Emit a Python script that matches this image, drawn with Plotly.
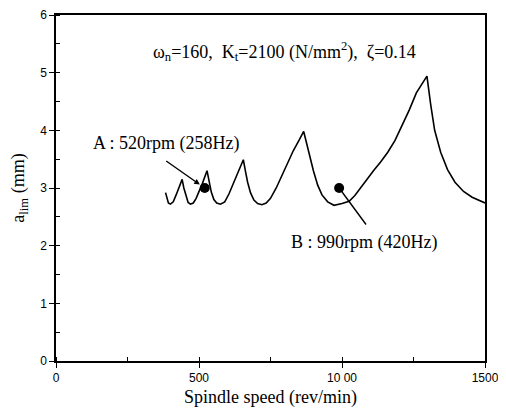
import plotly.graph_objects as go

# Stability lobe curve (spindle speed rpm, a_lim mm)
speed = [383, 393, 400, 410, 420, 432, 441, 447, 455, 462, 470, 480, 490, 500, 512, 528,
         535, 543, 552, 562, 575, 590, 605, 620, 638, 655, 662, 670, 680, 692, 705, 720,
         735, 750, 770, 790, 810, 830, 850, 866, 876, 888, 900, 915, 930, 950, 972, 1000,
         1025, 1045, 1065, 1085, 1110, 1135, 1160, 1185, 1210, 1235, 1260, 1280, 1297, 1310,
         1324, 1345, 1369, 1395, 1425, 1455, 1480, 1500]
alim = [2.92, 2.74, 2.72, 2.76, 2.88, 3.02, 3.15, 3.00, 2.85, 2.75, 2.72, 2.74, 2.82, 2.93, 3.08, 3.30,
        3.10, 2.93, 2.80, 2.74, 2.72, 2.76, 2.90, 3.08, 3.28, 3.49, 3.30, 3.10, 2.92, 2.79, 2.73, 2.71,
        2.74, 2.82, 3.00, 3.22, 3.45, 3.65, 3.83, 3.98, 3.78, 3.52, 3.30, 3.05, 2.88, 2.76, 2.70, 2.73,
        2.77, 2.87, 3.00, 3.15, 3.30, 3.45, 3.62, 3.82, 4.08, 4.35, 4.65, 4.80, 4.94, 4.45,
        4.00, 3.62, 3.32, 3.10, 2.94, 2.84, 2.78, 2.74]

point_speed = [520, 990]
point_alim = [3.0, 3.0]
point_labels = ["A : 520rpm (258Hz)", "B : 990rpm (420Hz)"]

x_ticks = [0, 500, 1000, 1500]
x_tick_text = ["0", "500", "10 00", "1500"]
y_ticks = [0, 1, 2, 3, 4, 5, 6]

serif = "Liberation Serif, Times New Roman, serif"
sans = "Liberation Sans, Arial, sans-serif"

fig = go.Figure()
fig.add_trace(go.Scatter(x=speed, y=alim, mode="lines",
                         line=dict(color="black", width=1.6), showlegend=False))
fig.add_trace(go.Scatter(x=point_speed, y=point_alim, mode="markers",
                         marker=dict(color="black", size=10), showlegend=False))

# title text inside plot
fig.add_annotation(x=800, y=5.37, xref="x", yref="y", showarrow=False,
                   text="ω<sub>n</sub>=160,  K<sub>t</sub>=2100 (N/mm<sup>2</sup>),  ζ=0.14",
                   font=dict(family=serif, size=18, color="black"))

# A label and leader
fig.add_annotation(x=386, y=3.78, xref="x", yref="y", showarrow=False,
                   text=point_labels[0], font=dict(family=serif, size=18, color="black"))
fig.add_annotation(x=point_speed[0], y=point_alim[0], xref="x", yref="y", text="",
                   showarrow=True, ax=-40, ay=-28, arrowhead=2, arrowsize=0.8,
                   arrowwidth=1.4, standoff=6, arrowcolor="black")

# B label and leader
fig.add_annotation(x=1076, y=2.05, xref="x", yref="y", showarrow=False,
                   text=point_labels[1], font=dict(family=serif, size=18, color="black"))
fig.add_annotation(x=point_speed[1], y=point_alim[1], xref="x", yref="y", text="",
                   showarrow=True, ax=28, ay=38, arrowhead=0,
                   arrowwidth=1.4, standoff=0, arrowcolor="black")

fig.update_xaxes(range=[0, 1500], tickvals=x_ticks, ticktext=x_tick_text, automargin=False,
                 ticklabeloverflow="allow",
                 showline=True, linecolor="black", linewidth=1.5, mirror=True,
                 ticks="outside", ticklen=5, tickcolor="black", showgrid=False, zeroline=False,
                 tickfont=dict(family=sans, size=12, color="black"),
                 minor=dict(dtick=250, ticks="inside", ticklen=4, tickcolor="black", showgrid=False),
                 title=dict(text="Spindle speed (rev/min)", font=dict(family=serif, size=18, color="black"),
                            standoff=6))
fig.update_yaxes(range=[0, 6], tickvals=y_ticks, automargin=False,
                 ticklabeloverflow="allow",
                 showline=True, linecolor="black", linewidth=1.5, mirror=True,
                 ticks="outside", ticklen=5, tickcolor="black", showgrid=False, zeroline=False,
                 tickfont=dict(family=sans, size=12, color="black"),
                 minor=dict(dtick=0.5, ticks="inside", ticklen=4, tickcolor="black", showgrid=False),
                 title=dict(text="a<sub>lim</sub> (mm)", font=dict(family=serif, size=18, color="black"),
                            standoff=14))

fig.update_layout(width=490, height=400, margin=dict(l=48, r=13, t=7, b=47),
                  plot_bgcolor="white", paper_bgcolor="white")

fig.write_html("out.html")
